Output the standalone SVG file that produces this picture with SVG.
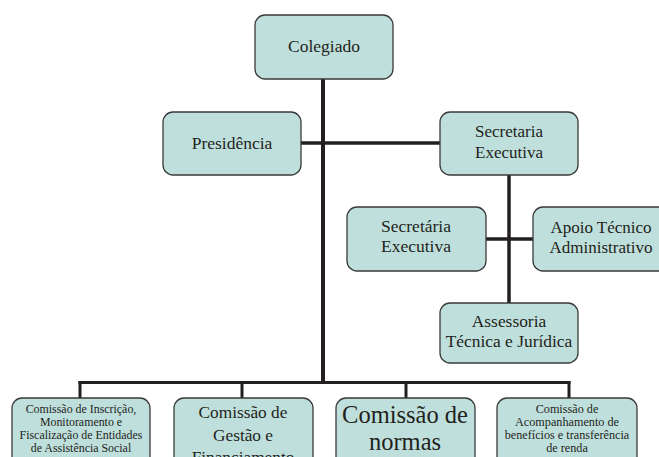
<svg xmlns="http://www.w3.org/2000/svg" width="659" height="457" viewBox="0 0 659 457">
<style>
.box{fill:#bfdfdc;stroke:#3a3a3a;stroke-width:1.3}
.ln{stroke:#231f20;fill:none;stroke-linecap:butt}
text{font-family:"Liberation Serif","Times New Roman",serif;fill:#231f20;text-anchor:middle}
</style>
<rect width="659" height="457" fill="#ffffff"/>
<g id="connectors">
<line class="ln" x1="323" y1="79" x2="323" y2="384" stroke-width="4"/>
<line class="ln" x1="301" y1="143" x2="440" y2="143" stroke-width="3.5"/>
<line class="ln" x1="509" y1="175" x2="509" y2="303" stroke-width="3.5"/>
<line class="ln" x1="486" y1="239" x2="533" y2="239" stroke-width="3.5"/>
<line class="ln" x1="78.5" y1="382.5" x2="570.5" y2="382.5" stroke-width="3"/>
<line class="ln" x1="80" y1="381" x2="80" y2="398" stroke-width="3"/>
<line class="ln" x1="242" y1="381" x2="242" y2="398" stroke-width="3"/>
<line class="ln" x1="406" y1="381" x2="406" y2="398" stroke-width="3"/>
<line class="ln" x1="569" y1="381" x2="569" y2="398" stroke-width="3"/>
</g>
<g id="colegiado"><rect class="box" x="255" y="15" width="138" height="64" rx="10"/><text x="324" y="52" font-size="17.5">Colegiado</text></g>
<g id="presidencia"><rect class="box" x="163" y="112" width="138" height="63" rx="10"/><text x="232" y="149" font-size="17.5">Presidência</text></g>
<g id="secretaria-executiva"><rect class="box" x="440" y="112" width="138" height="63" rx="10"/><text x="509" y="137" font-size="17">Secretaria</text><text x="509" y="158" font-size="17">Executiva</text></g>
<g id="secretaria-executiva-2"><rect class="box" x="347" y="207" width="139" height="64" rx="10"/><text x="416" y="232" font-size="17.5">Secretária</text><text x="416" y="252" font-size="17.5">Executiva</text></g>
<g id="apoio"><rect class="box" x="533" y="207" width="139" height="64" rx="10"/><text x="601" y="233" font-size="17">Apoio Técnico</text><text x="601" y="253" font-size="17">Administrativo</text></g>
<g id="assessoria"><rect class="box" x="440" y="303" width="138" height="60" rx="10"/><text x="509" y="327" font-size="17.4">Assessoria</text><text x="509" y="347" font-size="17.4">Técnica e Jurídica</text></g>
<g id="comissao-inscricao"><rect class="box" x="12" y="398" width="138" height="70" rx="10"/><text x="81" y="413" font-size="11.9">Comissão de Inscrição,</text><text x="81" y="426" font-size="11.9">Monitoramento e</text><text x="81" y="439" font-size="11.9">Fiscalização de Entidades</text><text x="81" y="452" font-size="11.9">de Assistência Social</text></g>
<g id="comissao-gestao"><rect class="box" x="174" y="398" width="139" height="70" rx="10"/><text x="243" y="418" font-size="17.3">Comissão de</text><text x="243" y="441" font-size="17.3">Gestão e</text><text x="243" y="463" font-size="17.3">Financiamento</text></g>
<g id="comissao-normas"><rect class="box" x="336" y="398" width="139" height="70" rx="10"/><text x="405" y="423" font-size="24.5">Comissão de</text><text x="405" y="450" font-size="24.5">normas</text></g>
<g id="comissao-acompanhamento"><rect class="box" x="497" y="398" width="140" height="70" rx="10"/><text x="567" y="413" font-size="12.2">Comissão de</text><text x="567" y="426" font-size="12.2">Acompanhamento de</text><text x="567" y="439" font-size="12.2">benefícios e transferência</text><text x="567" y="452" font-size="12.2">de renda</text></g>
</svg>
